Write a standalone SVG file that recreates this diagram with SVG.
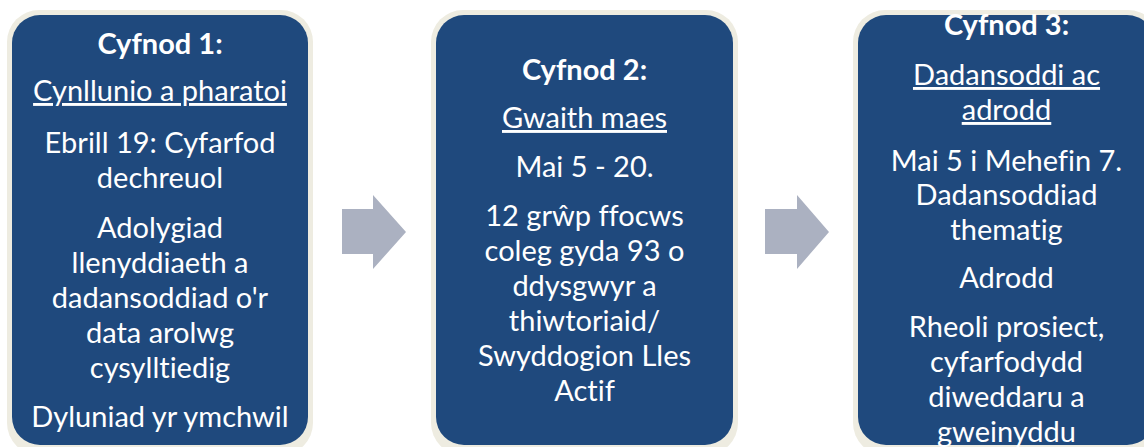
<svg xmlns="http://www.w3.org/2000/svg" width="1144" height="447" viewBox="0 0 1144 447">
<style>
.frame{fill:#EEECE1}
.card{fill:#1F497D}
.arrow{fill:#ABB1C1}
text{font-family:Lato,"Liberation Sans",sans-serif;font-size:29px;fill:#FFFFFF;text-anchor:middle;font-variant-ligatures:none;font-feature-settings:"liga" 0,"dlig" 0}
.h{font-weight:bold}
.u{text-decoration:underline}
</style>
<rect width="1144" height="447" fill="#FFFFFF"/>
<g id="stage1">
<rect class="frame" x="7" y="10" width="306" height="445" rx="32"/>
<rect class="card" x="12" y="15" width="296" height="430" rx="28"/>
<text class="h" x="160" y="54">Cyfnod 1:</text>
<text class="u" x="160" y="101">Cynllunio a pharatoi</text>
<text x="160" y="153">Ebrill 19: Cyfarfod</text>
<text x="160" y="188">dechreuol</text>
<text x="160" y="238">Adolygiad</text>
<text x="160" y="273">llenyddiaeth a</text>
<text x="160" y="308">dadansoddiad o'r</text>
<text x="160" y="343">data arolwg</text>
<text x="160" y="378">cysylltiedig</text>
<text x="160" y="427">Dyluniad yr ymchwil</text>
</g>
<g id="stage2">
<rect class="frame" x="431" y="10" width="307" height="445" rx="32"/>
<rect class="card" x="436" y="15" width="297" height="430" rx="28"/>
<text class="h" x="584.5" y="80">Cyfnod 2:</text>
<text class="u" x="584.5" y="128">Gwaith maes</text>
<text x="584.5" y="177">Mai 5 - 20.</text>
<text x="584.5" y="226">12 grŵp ffocws</text>
<text x="584.5" y="261">coleg gyda 93 o</text>
<text x="584.5" y="296">ddysgwyr a</text>
<text x="584.5" y="331">thiwtoriaid/</text>
<text x="584.5" y="366">Swyddogion Lles</text>
<text x="584.5" y="401">Actif</text>
</g>
<g id="stage3">
<rect class="frame" x="853" y="10" width="307" height="445" rx="32"/>
<rect class="card" x="858" y="15" width="297" height="430" rx="28"/>
<text class="h" x="1006.5" y="35">Cyfnod 3:</text>
<text class="u" x="1006.5" y="85">Dadansoddi ac</text>
<text class="u" x="1006.5" y="120">adrodd</text>
<text x="1006.5" y="171">Mai 5 i Mehefin 7.</text>
<text x="1006.5" y="205">Dadansoddiad</text>
<text x="1006.5" y="240">thematig</text>
<text x="1006.5" y="288">Adrodd</text>
<text x="1006.5" y="337">Rheoli prosiect,</text>
<text x="1006.5" y="372">cyfarfodydd</text>
<text x="1006.5" y="407">diweddaru a</text>
<text x="1006.5" y="442">gweinyddu</text>
</g>
<g id="connectors">
<polygon class="arrow" points="342,209 373,209 373,195 406,232 373,269 373,254 342,254"/>
<polygon class="arrow" points="765,209 797,209 797,195 829,232 797,269 797,254 765,254"/>
</g>
</svg>
